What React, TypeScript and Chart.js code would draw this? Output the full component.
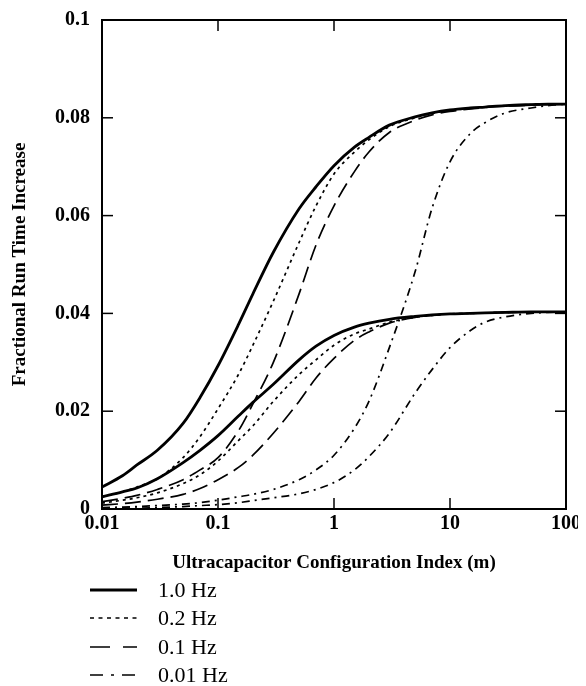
import React, { useEffect, useRef } from "react";
import { Chart, registerables } from "chart.js";

Chart.register(...registerables);

// ---- data ----
const xValues = [0.01, 0.015, 0.02, 0.03, 0.05, 0.07, 0.1, 0.15, 0.2, 0.3, 0.5, 0.7, 1, 1.5, 2, 3, 5, 7, 10, 15, 20, 30, 50, 70, 100];

const upper1Hz = [0.0045, 0.0068, 0.009, 0.012, 0.0175, 0.0228, 0.0293, 0.0377, 0.044, 0.0525, 0.0614, 0.0659, 0.0702, 0.074, 0.076, 0.0785, 0.0802, 0.081, 0.0816, 0.082, 0.0822, 0.0825, 0.0827, 0.0828, 0.0828];
const upper02Hz = [0.0025, 0.0035, 0.0045, 0.0062, 0.0105, 0.0148, 0.0205, 0.0275, 0.0335, 0.0425, 0.0545, 0.062, 0.0685, 0.073, 0.0755, 0.0782, 0.08, 0.0809, 0.0815, 0.0819, 0.0822, 0.0825, 0.0827, 0.0828, 0.0828];
const upper01Hz = [0.0015, 0.0022, 0.0028, 0.004, 0.006, 0.008, 0.0105, 0.016, 0.0215, 0.03, 0.044, 0.054, 0.062, 0.069, 0.073, 0.077, 0.0795, 0.0806, 0.0813, 0.0818, 0.0821, 0.0824, 0.0826, 0.0827, 0.0828];
const upper001Hz = [0.0003, 0.0004, 0.0005, 0.0007, 0.001, 0.0013, 0.0018, 0.0025, 0.003, 0.004, 0.006, 0.008, 0.011, 0.0165, 0.022, 0.033, 0.0485, 0.0615, 0.071, 0.0768, 0.079, 0.081, 0.082, 0.0825, 0.0828];

const lower1Hz = [0.0025, 0.0035, 0.0043, 0.0062, 0.0095, 0.012, 0.015, 0.019, 0.0218, 0.0255, 0.0305, 0.0333, 0.0355, 0.0372, 0.038, 0.0388, 0.0394, 0.0397, 0.0399, 0.04, 0.0401, 0.0402, 0.0403, 0.0403, 0.0403];
const lower02Hz = [0.0012, 0.0018, 0.0023, 0.0033, 0.0052, 0.007, 0.0098, 0.014, 0.017, 0.022, 0.0275, 0.0305, 0.0335, 0.0358, 0.0368, 0.0382, 0.0392, 0.0396, 0.0399, 0.04, 0.0401, 0.0402, 0.0403, 0.0403, 0.0403];
const lower01Hz = [0.0008, 0.0011, 0.0014, 0.002, 0.003, 0.0042, 0.006, 0.0085, 0.011, 0.0155, 0.022, 0.0268, 0.0308, 0.0345, 0.0362, 0.038, 0.0392, 0.0396, 0.0399, 0.04, 0.0401, 0.0402, 0.0403, 0.0403, 0.0403];
const lower001Hz = [0.0001, 0.0002, 0.0002, 0.0003, 0.0005, 0.0007, 0.0009, 0.0013, 0.0017, 0.0023, 0.0031, 0.004, 0.0054, 0.008, 0.0107, 0.0155, 0.0237, 0.0285, 0.033, 0.0365, 0.0382, 0.0393, 0.04, 0.0402, 0.0403];

const seriesLabels = ["1.0 Hz", "0.2 Hz", "0.1 Hz", "0.01 Hz"];
const xTickValues = [0.01, 0.1, 1, 10, 100];
const xTickLabels = ["0.01", "0.1", "1", "10", "100"];
const yTickValues = [0, 0.02, 0.04, 0.06, 0.08, 0.1];
const yTickLabels = ["0", "0.02", "0.04", "0.06", "0.08", "0.1"];
const xTitle = "Ultracapacitor Configuration Index (m)";
const yTitle = "Fractional Run Time Increase";

// ---- styles ----
const SERIF = '"Liberation Serif", "Times New Roman", serif';
const lineStyles = [
  { dash: [] as number[], legendDash: [] as number[], width: 2.8 },
  { dash: [3, 4], legendDash: [4, 4.5], width: 1.7 },
  { dash: [16, 7], legendDash: [20, 13], width: 1.7 },
  { dash: [8, 5, 2, 5], legendDash: [13, 8, 3, 8], width: 1.7 },
];

const W = 570;
const H = 678;
const X_SCALE_H = 65.4;

const toPoints = (ys: number[]) => ys.map((y, i) => ({ x: xValues[i], y }));

const framePlugin = {
  id: "frameAndLegend",
  afterDraw(chart: any) {
    const { ctx, chartArea: a, scales } = chart;
    ctx.save();
    ctx.strokeStyle = "#000";
    ctx.setLineDash([]);
    ctx.lineWidth = 2;
    ctx.strokeRect(a.left, a.top, a.right - a.left, a.bottom - a.top);
    ctx.lineWidth = 1.5;
    const tl = 11;
    const seg = (x1: number, y1: number, x2: number, y2: number) => {
      ctx.beginPath();
      ctx.moveTo(x1, y1);
      ctx.lineTo(x2, y2);
      ctx.stroke();
    };
    yTickValues.slice(1, -1).forEach((v) => {
      const y = scales.y.getPixelForValue(v);
      seg(a.left, y, a.left + tl, y);
      seg(a.right, y, a.right - tl, y);
    });
    xTickValues.slice(1, -1).forEach((v) => {
      const x = scales.x.getPixelForValue(v);
      seg(x, a.top, x, a.top + tl);
      seg(x, a.bottom, x, a.bottom - tl);
    });

    // legend
    const rows = [582, 610, 639, 667];
    ctx.font = `22px ${SERIF}`;
    ctx.fillStyle = "#000";
    ctx.textBaseline = "middle";
    ctx.textAlign = "left";
    seriesLabels.forEach((lab, i) => {
      const y = rows[i];
      ctx.setLineDash(lineStyles[i].legendDash);
      ctx.lineWidth = lineStyles[i].width;
      seg(82, y, 129, y);
      ctx.setLineDash([]);
      ctx.fillText(lab, 150, y + 1);
    });
    ctx.restore();
  },
};

export default function App() {
  const ref = useRef<HTMLCanvasElement | null>(null);

  useEffect(() => {
    if (!ref.current) return;
    const groups = [
      [upper1Hz, upper02Hz, upper01Hz, upper001Hz],
      [lower1Hz, lower02Hz, lower01Hz, lower001Hz],
    ];
    const datasets: any[] = [];
    groups.forEach((g) =>
      g.forEach((ys, i) => {
        datasets.push({
          label: seriesLabels[i],
          data: toPoints(ys),
          borderColor: "#000",
          backgroundColor: "#000",
          borderWidth: lineStyles[i].width,
          borderDash: lineStyles[i].dash,
          pointRadius: 0,
          fill: false,
          cubicInterpolationMode: "monotone",
        });
      })
    );

    const tickFont = { family: SERIF, size: 20, weight: "bold" as const };
    const titleFont = { family: SERIF, size: 19, weight: "bold" as const };

    const chart = new Chart(ref.current, {
      type: "line",
      data: { datasets },
      options: {
        animation: false,
        responsive: false,
        devicePixelRatio: 1,
        layout: { padding: { top: 12, right: 12, left: 0, bottom: H - 501 - X_SCALE_H } },
        plugins: { legend: { display: false }, tooltip: { enabled: false } },
        scales: {
          x: {
            type: "logarithmic",
            min: 0.01,
            max: 100,
            grid: { display: false, drawTicks: false },
            border: { display: false },
            afterBuildTicks: (s: any) => {
              s.ticks = xTickValues.map((v) => ({ value: v }));
            },
            afterFit: (s: any) => {
              s.height = X_SCALE_H;
              s.paddingLeft = 0;
              s.paddingRight = 0;
            },
            ticks: {
              color: "#000",
              font: tickFont,
              padding: 3,
              maxRotation: 0,
              autoSkip: false,
              callback: (v: any) => {
                const i = xTickValues.indexOf(Number(v));
                return i >= 0 ? xTickLabels[i] : "";
              },
            },
            title: { display: true, text: xTitle, color: "#000", font: titleFont, padding: 0 },
          },
          y: {
            type: "linear",
            min: 0,
            max: 0.1,
            grid: { display: false, drawTicks: false },
            border: { display: false },
            afterBuildTicks: (s: any) => {
              s.ticks = yTickValues.map((v) => ({ value: v }));
            },
            afterFit: (s: any) => {
              s.width = 94;
              s.paddingTop = 0;
              s.paddingBottom = 0;
            },
            ticks: {
              color: "#000",
              font: tickFont,
              padding: 12,
              callback: (v: any) => {
                const i = yTickValues.findIndex((t) => Math.abs(t - Number(v)) < 1e-9);
                return i >= 0 ? yTickLabels[i] : "";
              },
            },
            title: { display: true, text: yTitle, color: "#000", font: titleFont, padding: { top: 0.6, bottom: 0 } },
          },
        },
      },
      plugins: [framePlugin],
    });
    return () => chart.destroy();
  }, []);

  return (
    <div style={{ width: W, height: H }}>
      <canvas ref={ref} width={W} height={H} style={{ display: "block", width: W, height: H }} />
    </div>
  );
}
